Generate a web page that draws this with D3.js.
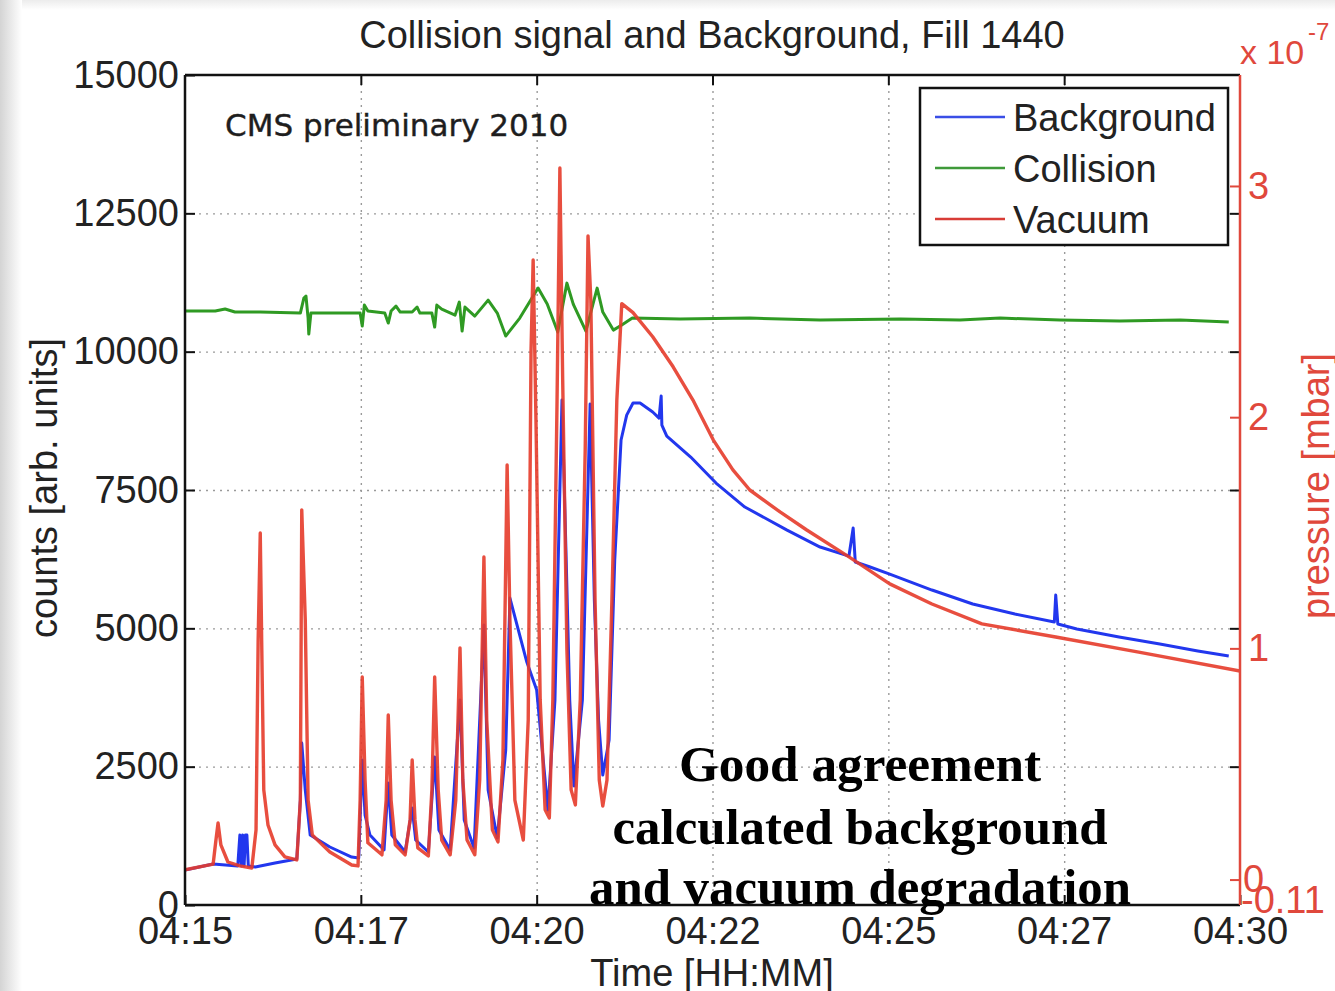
<!DOCTYPE html>
<html><head><meta charset="utf-8">
<script src="https://cdn.jsdelivr.net/npm/d3@7"></script>
<style>body{margin:0;background:#fff} svg{display:block}</style>
</head><body>
<svg id="chart" width="1335" height="991"></svg>
<script>
// ---------------- data ----------------
const xTickValues = [0, 2.5, 5, 7.5, 10, 12.5, 15];           // minutes since 04:15
const xTickLabels = ["04:15","04:17","04:20","04:22","04:25","04:27","04:30"];
const leftTicks = [0, 2500, 5000, 7500, 10000, 12500, 15000];
const rightTicks = [-0.11, 0, 1, 2, 3];
const seriesNames = ["Background", "Collision", "Vacuum"];
const annotationLines = ["Good agreement", "calculated background", "and vacuum degradation"];

// Background counts [minute, counts]
const backgroundData = [
  [0,632],[0.40,741],[0.75,705],[0.78,1265],[0.80,705],[0.82,1265],[0.84,705],[0.86,1265],[0.88,1265],[0.90,705],[1.00,687],[1.28,759],
  [1.59,831],[1.64,1897],[1.66,2927],[1.71,2078],[1.78,1265],[2.06,1048],[2.37,867],[2.47,849],
  [2.52,2620],[2.56,1626],[2.63,1265],[2.83,994],[2.89,2205],[2.94,1265],[3.13,958],[3.23,1753],
  [3.28,1175],[3.46,958],[3.55,2674],[3.61,1355],[3.77,994],[3.91,3704],[3.97,1536],[4.11,1030],
  [4.25,5060],[4.31,2078],[4.44,1211],[4.56,2801],[4.62,5547],[4.86,4391],[5.00,3885],[5.08,2801],
  [5.16,1717],[5.26,3704],[5.36,9125],[5.42,6234],[5.47,3704],[5.53,2150],[5.65,3704],[5.76,9053],
  [5.82,5511],[5.88,3343],[5.94,2349],[6.03,2982],[6.11,6234],[6.20,8403],[6.28,8854],[6.37,9071],
  [6.47,9071],[6.65,8909],[6.74,8800],[6.77,9198],[6.78,8674],[6.85,8475],[7.19,8095],[7.55,7626],
  [7.96,7192],[8.56,6776],[9.03,6469],[9.44,6306],[9.50,6812],[9.53,6198],[9.74,6108],[10.02,5981],
  [10.62,5692],[11.20,5439],[11.80,5258],[12.36,5114],[12.38,5602],[12.41,5078],[12.68,4987],
  [13.28,4843],[13.86,4716],[14.40,4590],[14.84,4499]
];

// Collision counts [minute, counts]
const collisionData = [
  [0,10734],[0.43,10734],[0.57,10770],[0.71,10716],[1.07,10716],[1.64,10697],[1.69,10969],[1.72,11005],
  [1.75,10607],[1.76,10318],[1.79,10697],[2.20,10697],[2.49,10697],[2.52,10462],[2.55,10842],[2.60,10734],
  [2.84,10697],[2.89,10517],[2.93,10734],[3.00,10824],[3.06,10716],[3.23,10716],[3.30,10806],[3.34,10697],
  [3.51,10697],[3.55,10444],[3.58,10842],[3.65,10770],[3.84,10661],[3.90,10896],[3.94,10372],[3.98,10806],
  [4.12,10643],[4.31,10932],[4.44,10697],[4.56,10282],[4.76,10607],[5.02,11149],[5.15,10860],[5.30,10354],
  [5.43,11239],[5.52,10860],[5.70,10372],[5.86,11149],[5.94,10716],[6.09,10390],[6.21,10481],[6.36,10607],
  [7.04,10589],[8.03,10607],[9.03,10571],[10.17,10589],[11.02,10571],[11.59,10607],[12.44,10571],
  [13.29,10553],[14.15,10571],[14.84,10535]
];

// Vacuum pressure [minute, x1e-7 mbar]
const vacuumData = [
  [0,0.042],[0.40,0.067],[0.44,0.171],[0.47,0.245],[0.51,0.150],[0.61,0.076],[0.78,0.059],[0.95,0.050],
  [1.01,0.215],[1.04,1.036],[1.07,1.499],[1.09,1.036],[1.12,0.388],[1.18,0.236],[1.28,0.150],[1.42,0.098],
  [1.59,0.085],[1.64,0.344],[1.66,1.599],[1.71,1.123],[1.75,0.344],[1.81,0.193],[2.06,0.119],[2.37,0.063],
  [2.46,0.059],[2.49,0.344],[2.52,0.876],[2.56,0.431],[2.60,0.159],[2.80,0.107],[2.86,0.344],[2.89,0.712],
  [2.93,0.344],[2.99,0.150],[3.13,0.107],[3.20,0.258],[3.23,0.517],[3.27,0.258],[3.31,0.137],[3.46,0.102],
  [3.51,0.388],[3.55,0.876],[3.60,0.388],[3.65,0.171],[3.77,0.107],[3.85,0.344],[3.91,1.002],[3.95,0.431],
  [4.01,0.171],[4.12,0.107],[4.19,0.431],[4.25,1.395],[4.29,0.691],[4.37,0.215],[4.45,0.163],[4.52,0.517],
  [4.58,1.793],[4.62,1.123],[4.69,0.344],[4.81,0.171],[4.88,0.691],[4.92,2.291],[4.95,2.680],[4.99,1.988],
  [5.05,0.778],[5.12,0.302],[5.18,0.266],[5.23,0.778],[5.29,2.075],[5.33,3.078],[5.37,2.161],[5.43,0.994],
  [5.49,0.388],[5.55,0.323],[5.62,0.778],[5.69,1.859],[5.73,2.784],[5.77,2.507],[5.83,1.210],[5.89,0.431],
  [5.94,0.318],[6.00,0.431],[6.07,1.210],[6.14,2.075],[6.21,2.491],[6.37,2.452],[6.65,2.348],[6.94,2.218],
  [7.22,2.075],[7.51,1.902],[7.79,1.772],[8.03,1.685],[8.46,1.590],[8.84,1.512],[9.44,1.396],[10.02,1.279],
  [10.62,1.192],[11.33,1.106],[12.38,1.049],[13.56,0.984],[15.00,0.902]
];

// ---------------- layout ----------------
const L = 185, R = 1240, T = 75, B = 905;
const FONT = "'Liberation Sans', Arial, Helvetica, sans-serif";
const TXT = "#222";
const C_BLUE = "#2237ee", C_GREEN = "#2f9a23", C_RED = "#e63b2a", C_AXR = "#e0483c";

const svg = d3.select("#chart");
const defs = svg.append("defs");
const gl = defs.append("linearGradient").attr("id","shadeL").attr("x1",0).attr("x2",1).attr("y1",0).attr("y2",0);
gl.append("stop").attr("offset",0).attr("stop-color","#d4d4d4");
gl.append("stop").attr("offset",1).attr("stop-color","#ffffff");
const gt = defs.append("linearGradient").attr("id","shadeT").attr("x1",0).attr("x2",0).attr("y1",0).attr("y2",1);
gt.append("stop").attr("offset",0).attr("stop-color","#ececec");
gt.append("stop").attr("offset",1).attr("stop-color","#ffffff");
defs.append("clipPath").attr("id","plotClip").append("rect")
  .attr("x",L).attr("y",T).attr("width",R-L).attr("height",B-T);

svg.append("rect").attr("width",1335).attr("height",991).attr("fill","#fff");
svg.append("rect").attr("x",0).attr("y",0).attr("width",1335).attr("height",10).attr("fill","url(#shadeT)");
svg.append("rect").attr("x",0).attr("y",0).attr("width",22).attr("height",991).attr("fill","url(#shadeL)");

const x = d3.scaleLinear().domain([0,15]).range([L,R]);
const yL = d3.scaleLinear().domain([0,15000]).range([B,T]);
const yR = d3.scaleLinear().domain([-0.11,3.48]).range([B,T]);

// ---------------- grid ----------------
const gridStyle = g => { g.select(".domain").remove();
  g.selectAll("line").attr("stroke","#9a9a9a").attr("stroke-width",1.4).attr("stroke-dasharray","2,5"); };
svg.append("g").attr("transform",`translate(${L},0)`)
  .call(d3.axisLeft(yL).tickValues(leftTicks.filter(v=>v>0&&v<15000)).tickSize(-(R-L)).tickFormat(""))
  .call(gridStyle);
svg.append("g").attr("transform",`translate(0,${B})`)
  .call(d3.axisBottom(x).tickValues(xTickValues.filter(v=>v>0&&v<15)).tickSize(-(B-T)).tickFormat(""))
  .call(gridStyle);

// ---------------- series ----------------
const plot = svg.append("g").attr("clip-path","url(#plotClip)");
const lineL = d3.line().x(d=>x(d[0])).y(d=>yL(d[1]));
const lineR = d3.line().x(d=>x(d[0])).y(d=>yR(d[1]));
plot.append("path").datum(backgroundData).attr("d",lineL)
  .attr("fill","none").attr("stroke",C_BLUE).attr("stroke-width",3).attr("stroke-linejoin","round");
plot.append("path").datum(collisionData).attr("d",lineL)
  .attr("fill","none").attr("stroke",C_GREEN).attr("stroke-width",3).attr("stroke-linejoin","round");
plot.append("path").datum(vacuumData).attr("d",lineR)
  .attr("fill","none").attr("stroke",C_RED).attr("stroke-width",3.4).attr("stroke-opacity",0.9).attr("stroke-linejoin","round");

// ---------------- axes ----------------
const axStyle = (g, color) => {
  g.select(".domain").remove();
  g.selectAll("line").attr("stroke",color).attr("stroke-width",2);
  g.selectAll("text").attr("font-family",FONT).attr("font-size",38).attr("fill",color === "#111" ? TXT : color);
};
svg.append("g").attr("transform",`translate(${L},0)`)
  .call(d3.axisLeft(yL).tickValues(leftTicks).tickSize(-10).tickPadding(6).tickFormat(d3.format("d")))
  .call(g=>axStyle(g,"#111"));
svg.append("g").attr("transform",`translate(${R},0)`)
  .call(d3.axisRight(yL).tickValues(leftTicks.slice(1,-1)).tickSize(-10).tickFormat(""))
  .call(g=>axStyle(g,"#111"));
svg.append("g").attr("transform",`translate(0,${B})`)
  .call(d3.axisBottom(x).tickValues(xTickValues).tickSize(-10).tickPadding(12).tickFormat((d,i)=>xTickLabels[i]))
  .call(g=>axStyle(g,"#111"));
svg.append("g").attr("transform",`translate(0,${T})`)
  .call(d3.axisTop(x).tickValues(xTickValues.slice(1,-1)).tickSize(-10).tickFormat(""))
  .call(g=>axStyle(g,"#111"));
const rAx = svg.append("g").attr("transform",`translate(${R},0)`)
  .call(d3.axisRight(yR).tickValues(rightTicks).tickSize(-10).tickPadding(8)
        .tickFormat(d => d === -0.11 ? "-0.11" : d3.format("d")(d)))
  .call(g=>axStyle(g,C_AXR));
rAx.selectAll(".tick").filter(d=>d===-0.11).select("text").attr("x",1).attr("dy","0.2em");
rAx.selectAll(".tick").filter(d=>d===-0.11).select("line").remove();
rAx.selectAll(".tick").filter(d=>d===0).select("text").attr("x",3);

// frame
svg.append("line").attr("x1",L).attr("x2",R).attr("y1",T).attr("y2",T).attr("stroke","#111").attr("stroke-width",2.5);
svg.append("line").attr("x1",L).attr("x2",R).attr("y1",B).attr("y2",B).attr("stroke","#111").attr("stroke-width",2.5);
svg.append("line").attr("x1",L).attr("x2",L).attr("y1",T).attr("y2",B).attr("stroke","#111").attr("stroke-width",2.5);
svg.append("line").attr("x1",R).attr("x2",R).attr("y1",T).attr("y2",B).attr("stroke",C_AXR).attr("stroke-width",2.5);

// ---------------- texts ----------------
svg.append("text").attr("x",712).attr("y",48).attr("text-anchor","middle")
  .attr("font-family",FONT).attr("font-size",38).attr("fill",TXT)
  .text("Collision signal and Background, Fill 1440");
svg.append("text").attr("x",712).attr("y",986).attr("text-anchor","middle")
  .attr("font-family",FONT).attr("font-size",38).attr("fill",TXT).text("Time [HH:MM]");
svg.append("text").attr("transform","translate(57,488) rotate(-90)").attr("text-anchor","middle")
  .attr("font-family",FONT).attr("font-size",38).attr("fill",TXT).text("counts [arb. units]");
svg.append("text").attr("transform","translate(1329,486) rotate(-90)").attr("text-anchor","middle")
  .attr("font-family",FONT).attr("font-size",38).attr("fill",C_AXR).text("pressure [mbar]");
svg.append("text").attr("x",1240).attr("y",64)
  .attr("font-family",FONT).attr("font-size",34).attr("fill",C_AXR).text("x 10");
svg.append("text").attr("x",1308).attr("y",40)
  .attr("font-family",FONT).attr("font-size",24).attr("fill",C_AXR).text("-7");
svg.append("text").attr("x",225).attr("y",136)
  .attr("font-family","'DejaVu Sans', Verdana, sans-serif").attr("font-size",31).attr("fill","#1e1e1e")
  .attr("stroke","#1e1e1e").attr("stroke-width",0.4).text("CMS preliminary 2010");

// ---------------- legend ----------------
const lg = svg.append("g");
lg.append("rect").attr("x",920).attr("y",88).attr("width",308).attr("height",157)
  .attr("fill","#fff").attr("stroke","#111").attr("stroke-width",2.5);
const legendColors = ["#3a4ee6","#3f9a3a","#d83c36"];
seriesNames.forEach((name,i)=>{
  const yy = 117 + i*51;
  lg.append("line").attr("x1",935).attr("x2",1005).attr("y1",yy).attr("y2",yy)
    .attr("stroke",legendColors[i]).attr("stroke-width",2.6);
  lg.append("text").attr("x",1013).attr("y",yy+14)
    .attr("font-family",FONT).attr("font-size",38).attr("fill",TXT).text(name);
});

// ---------------- annotation ----------------
const annBase = [781, 844, 904], annWidth = [362, 495, 542];
annotationLines.forEach((s,i)=>{
  svg.append("text").attr("x",860).attr("y",annBase[i]).attr("text-anchor","middle")
    .attr("font-family","'Liberation Serif', 'Times New Roman', serif").attr("font-weight","bold")
    .attr("font-size",50).attr("fill","#000")
    .attr("textLength",annWidth[i]).attr("lengthAdjust","spacingAndGlyphs").text(s);
});
</script>
</body></html>
